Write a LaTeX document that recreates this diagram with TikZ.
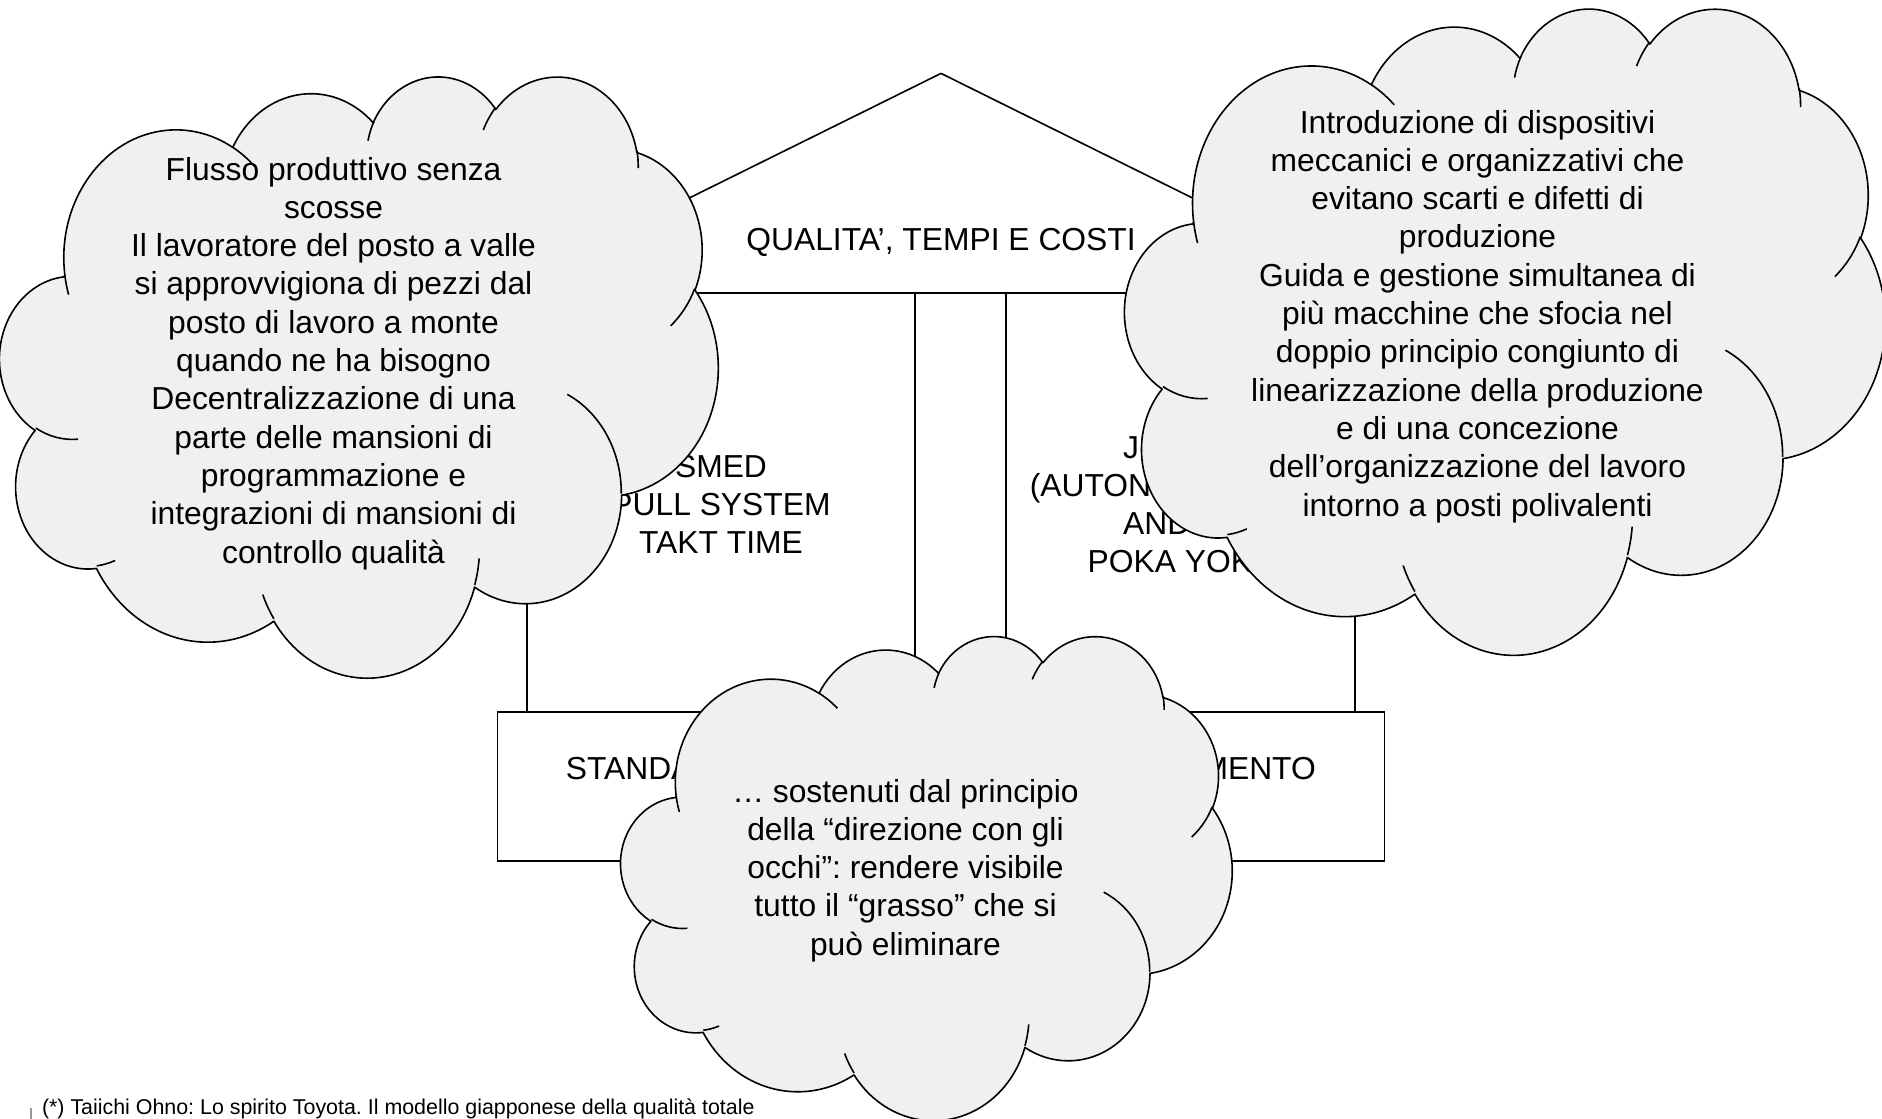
\documentclass[tikz,border=0pt]{standalone}
\usepackage{fontspec}
\setmainfont{Liberation Sans}
\frenchspacing
\definecolor{cloudgray}{RGB}{240,240,240}
\definecolor{barcol}{RGB}{150,150,150}

% one lobe of the cloud outline; the angles are "visual" angles on the
% ellipse, converted here into the parametric angles TikZ expects
\newcommand\cldarc[4]{arc[start angle={atan2((#1)*sin(#3),(#2)*cos(#3))},%
  delta angle={mod(atan2((#1)*sin((#3)+(#4)),(#2)*cos((#3)+(#4)))-atan2((#1)*sin(#3),(#2)*cos(#3))+720,360)},%
  x radius=#1, y radius=#2]}

% cloud drawn in a 432 x 432 frame, placed at (x0,y0) with size w x h
\newcommand\drawcloud[4]{%
  \begin{scope}[shift={(#1,#2)}, xscale=#3/432, yscale=#4/432]
    \path[cloudbody] (39.00,143.70)
      \cldarc{67.53}{91.90}{-190.48748}{123.78053}
      \cldarc{53.33}{72.67}{-144.10238}{89.94523}
      \cldarc{43.65}{59.45}{-145.80792}{99.72302}
      \cldarc{48.57}{65.95}{-130.98607}{117.24173}
      \cldarc{53.33}{72.73}{-78.70888}{109.02692}
      \cldarc{67.75}{92.20}{-46.26725}{130.26900}
      \cldarc{57.85}{78.67}{0.62502}{114.03333}
      \cldarc{67.52}{92.15}{22.45160}{115.17255}
      \cldarc{77.20}{105.43}{66.24263}{75.71102}
      \cldarc{43.60}{59.18}{-274.94208}{146.73557}
      \cldarc{43.45}{59.45}{-246.82850}{152.51885}
      -- cycle;
    \path[cloudline]
      (46.93,261.77) \cldarc{43.45}{59.45}{86.74200}{26.42950}
      (69.28,348.99) \cldarc{43.60}{59.18}{73.61047}{11.44747}
      (164.78,390.90) \cldarc{67.52}{92.15}{137.62415}{14.08110}
      (288.27,347.51) \cldarc{67.52}{92.15}{6.45327}{15.99835}
      (341.29,229.54) \cldarc{57.85}{78.67}{-70.29235}{70.91737}
      (417.98,153.54) \cldarc{53.33}{72.73}{30.31803}{27.75150}
      (383.24,54.26) \cldarc{48.57}{65.95}{-13.74433}{14.85890}
      (290.78,39.52) \cldarc{48.57}{65.95}{-149.18145}{18.19537}
      (221.41,47.20) \cldarc{43.65}{59.45}{-163.49427}{17.68635}
      (140.00,51.92) \cldarc{67.53}{91.90}{-66.70695}{12.31935}
      (41.27,157.89) \cldarc{67.53}{91.90}{157.65435}{11.85817};
  \end{scope}}

\begin{document}
\begin{tikzpicture}[x=1pt, y=-1pt,
  every node/.style={inner sep=0pt, outer sep=0pt},
  % multi-line texts are placed by the baseline of their last line
  bigtext/.style={font=\fontsize{31.8}{38.3}\selectfont, align=center, anchor=base},
  frame/.style={draw=black, line width=1.6pt},
  box/.style={frame, rectangle, minimum width=#1},
  cloudbody/.style={fill=cloudgray, draw=black, line width=1.6pt, line join=round},
  cloudline/.style={draw=black, line width=1.6pt},
  foottext/.style={font=\fontsize{21.4}{25}\selectfont, anchor=base west}]

\useasboundingbox (0,0) rectangle (1882,1119);

% house: roof, two pillars, base
\coordinate (roofL) at (497.3,293);
\coordinate (apex) at (941,73.4);
\coordinate (roofR) at (1384.3,293);
\draw[frame, line join=miter] (roofL) -- (apex) -- (roofR) -- cycle;

\node[box=388pt, minimum height=419pt] (pillarL) at (721,502.5) {};
\node[box=349pt, minimum height=419pt] (pillarR) at (1180.5,502.5) {};
\node[box=887pt, minimum height=149pt] (base) at (940.8,786.5) {};

\node[bigtext] (roofT) at (941,250) {QUALITA’, TEMPI E COSTI};
\node[bigtext] (pillarLT) at (721,553.6) {SMED\\PULL SYSTEM\\TAKT TIME};
\node[bigtext] (pillarRT) at (1180.5,572.9) {JIDOKA\\(AUTONOMAZIONE)\\ANDON\\POKA YOKE};
\node[bigtext] (baseT) at (940.8,779) {\makebox[750pt][s]{STANDARDIZZAZIONE E MIGLIORAMENTO}};

% clouds
\drawcloud{0}{75}{718}{601}
\node[bigtext] (cloudLT) at (333.5,563) {Flusso produttivo senza\\scosse\\Il lavoratore del posto a valle\\si approvvigiona di pezzi dal\\posto di lavoro a monte\\quando ne ha bisogno\\Decentralizzazione di una\\parte delle mansioni di\\programmazione e\\integrazioni di mansioni di\\controllo qualità};

\drawcloud{1125}{7}{760}{646}
\node[bigtext] (cloudRT) at (1477.5,516) {Introduzione di dispositivi\\meccanici e organizzativi che\\evitano scarti e difetti di\\produzione\\Guida e gestione simultanea di\\più macchine che sfocia nel\\doppio principio congiunto di\\linearizzazione della produzione\\e di una concezione\\dell’organizzazione del lavoro\\intorno a posti polivalenti};

\drawcloud{621}{635}{611}{484}
\node[bigtext] (cloudBT) at (905.5,955.2) {… sostenuti dal principio\\della “direzione con gli\\occhi”: rendere visibile\\tutto il “grasso” che si\\può eliminare};

% source note
\coordinate (barT) at (31,1108);
\coordinate (barB) at (31,1119);
\draw[barcol, line width=1.3pt] (barT) -- (barB);
\node[foottext] (foot) at (42,1114) {(*) Taiichi Ohno: Lo spirito Toyota. Il modello giapponese della qualità totale};

\end{tikzpicture}
\end{document}
